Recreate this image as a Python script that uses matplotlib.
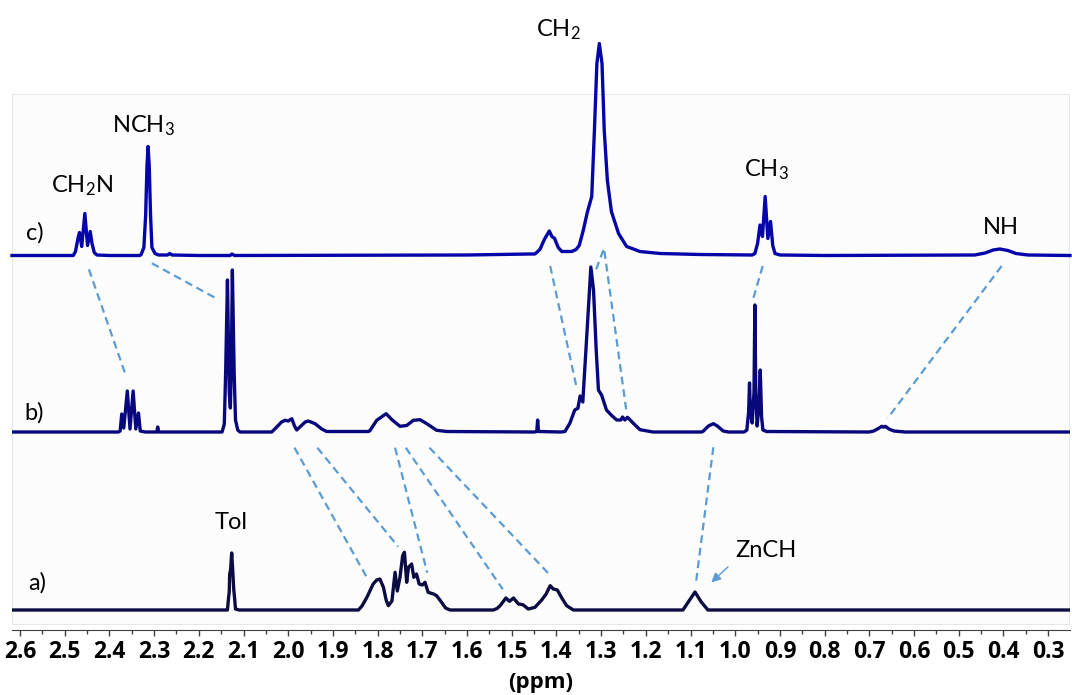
import matplotlib
matplotlib.use("Agg")
import matplotlib.pyplot as plt
from matplotlib.patches import Rectangle
from matplotlib.ticker import MultipleLocator, FormatStrFormatter

plt.rcParams['font.family'] = ['Lato', 'DejaVu Sans']
plt.rcParams['mathtext.fontset'] = 'custom'
plt.rcParams['mathtext.rm'] = 'Lato'
plt.rcParams['mathtext.it'] = 'Lato:italic'
plt.rcParams['mathtext.bf'] = 'Lato:bold'

# Spectrum c) - traced points (ppm, intensity)
ppm_c = [2.618, 2.50, 2.481, 2.476, 2.470, 2.467, 2.462, 2.455, 2.449, 2.443, 2.439, 2.434, 2.428,
         2.40, 2.332, 2.329, 2.323, 2.319, 2.316, 2.3136, 2.311, 2.308, 2.305, 2.298, 2.290,
         2.270, 2.265, 2.260, 2.20, 2.13, 2.126, 2.12, 1.60, 1.46,
         1.448, 1.437, 1.427, 1.416, 1.410, 1.404, 1.396, 1.388, 1.366, 1.356, 1.349, 1.340,
         1.331, 1.321, 1.315, 1.3095, 1.304, 1.298, 1.293, 1.286, 1.277, 1.261, 1.243, 1.213,
         1.168, 1.079, 0.962, 0.956, 0.950, 0.9445, 0.939, 0.933, 0.927, 0.921, 0.916, 0.911,
         0.90, 0.80, 0.464, 0.441, 0.423, 0.408, 0.390, 0.372, 0.345, 0.251]
int_c = [0, 0, 0, 4, 18, 23, 9, 42, 10, 24, 12, 3, 0.5,
         0, 0, 1, 8, 40, 90, 109, 90, 40, 8, 2, 0.5,
         0.5, 2, 0.5, 0, 0, 1.5, 0, 0.5, 1.5,
         1.5, 6, 16, 24.5, 19, 17, 8, 4, 4, 6, 10, 25,
         43, 59, 125, 192, 212, 192, 125, 75, 44, 22, 9, 4,
         2, 1, 0.5, 2, 12, 30.5, 19, 59, 17, 34, 10, 2,
         0.5, 0, 0.5, 2.5, 5.5, 6.5, 5, 2, 0.5, 0]

# Spectrum b)
ppm_b = [2.618, 2.38, 2.376, 2.3725, 2.368, 2.360, 2.354, 2.347, 2.341, 2.335, 2.331, 2.32,
         2.294, 2.292, 2.290, 2.16, 2.148, 2.143, 2.140, 2.136, 2.132, 2.1295, 2.1275, 2.125,
         2.121, 2.118, 2.113, 2.108,
         2.037, 2.030, 2.015, 2.007, 2.000, 1.992, 1.986, 1.981, 1.974, 1.962, 1.955, 1.940,
         1.925, 1.914, 1.82, 1.817, 1.802, 1.781, 1.768, 1.750, 1.735, 1.720, 1.705, 1.690,
         1.668, 1.645, 1.45, 1.444, 1.442, 1.440, 1.39,
         1.381, 1.370, 1.359, 1.352, 1.347, 1.341, 1.334, 1.326, 1.323, 1.317, 1.311, 1.306,
         1.299, 1.288, 1.276, 1.265, 1.256, 1.252, 1.247, 1.241, 1.235, 1.228, 1.213, 1.184,
         1.075, 1.071, 1.060, 1.049, 1.040, 1.027, 1.015,
         0.980, 0.974, 0.970, 0.968, 0.966, 0.962, 0.958, 0.956, 0.954, 0.951, 0.947, 0.944,
         0.941, 0.938, 0.93, 0.70, 0.690, 0.678, 0.672, 0.668, 0.664, 0.656, 0.645, 0.62, 0.251]
int_b = [0, 0, 1, 18, 4, 41, 3, 41, 3, 19, 1, 0,
         0, 5, 0, 0, 0, 8, 60, 152, 40, 24, 60, 162,
         60, 12, 2, 0,
         0, 3, 10, 11.7, 11, 13.3, 6, 2, 5, 10, 11, 8.3,
         3, 0.5, 0.5, 1.5, 11.7, 18.3, 12.3, 5.7, 6.5, 11.7, 12.3, 8.3,
         1.7, 0.5, 0, 0.5, 12, 0.5, 0,
         0.5, 8.7, 22, 23.7, 36, 30, 82, 142, 165, 142, 82, 42,
         37, 22, 16.3, 12, 12, 15, 12, 14.7, 12, 8.7, 2.3, 0,
         0, 1, 6, 8.3, 6, 1, 0,
         0, 2, 20, 49, 20, 9, 40, 127, 40, 6, 25, 62,
         15, 2, 0.5, 0, 1, 4, 5.7, 4.8, 5.7, 3, 1, 0, 0]

# Spectrum a)
ppm_a = [2.618, 2.136, 2.1336, 2.132, 2.131, 2.129, 2.1265, 2.124, 2.1218, 2.120, 2.118, 2.11,
         1.843, 1.835, 1.824, 1.810, 1.802, 1.795, 1.787, 1.781, 1.776, 1.768, 1.761, 1.756,
         1.750, 1.744, 1.740, 1.735, 1.731, 1.724, 1.719, 1.713, 1.707, 1.700, 1.694, 1.687,
         1.675, 1.668, 1.657, 1.648, 1.638,
         1.541, 1.533, 1.526, 1.513, 1.505, 1.496, 1.485, 1.475, 1.463, 1.448, 1.433, 1.423,
         1.414, 1.407, 1.398, 1.388, 1.377, 1.362,
         1.117, 1.105, 1.090, 1.076, 1.061, 0.251]
int_a = [0, 0, 12, 18, 36, 40, 57, 38, 20, 12, 1, 0,
         0, 4, 12.7, 26, 30, 31, 22.7, 10, 4.3, 9, 37.7, 19,
         32.7, 54.3, 57.7, 27.7, 42.7, 46, 32.7, 36, 26, 25, 27.7, 17.7,
         16, 14.3, 7.7, 2, 0,
         0, 1.5, 4.3, 12, 8.7, 12, 6, 5.3, 1, 2.7, 10, 16,
         24.3, 21, 20, 12, 4.3, 0,
         0, 8, 18, 8, 0, 0]

# Peak labels (text, ppm, height)
labels = [(r'CH$_\mathregular{2}$N', 2.462, 433), (r'NCH$_\mathregular{3}$', 2.324, 493),
          (r'CH$_\mathregular{2}$', 1.395, 589), (r'CH$_\mathregular{3}$', 0.931, 449),
          ('NH', 0.405, 391), ('Tol', 2.128, 96), ('ZnCH', 0.931, 68),
          ('c)', 2.566, 385), ('b)', 2.569, 205), ('a)', 2.562, 35)]

# Correlation lines between spectra
links = [([2.446, 2.365], [355.7, 251.7]),
         ([2.305, 2.164], [361.7, 327.3]),
         ([1.414, 1.356], [359, 240]),
         ([1.311, 1.2935, 1.244], [355.7, 376.7, 215.7]),
         ([0.9385, 0.9595], [359, 326.7]),
         ([0.404, 0.659], [359, 206.7]),
         ([1.986, 1.821], [177.3, 45]),
         ([1.935, 1.754], [177.3, 78.3]),
         ([1.761, 1.689], [177.3, 52.3]),
         ([1.737, 1.520], [177.3, 35.7]),
         ([1.684, 1.416], [177.3, 50.7]),
         ([1.049, 1.088], [177.7, 41.7])]

offset_a, offset_b, offset_c = 15, 193, 369.5

fig = plt.figure(figsize=(10.72, 6.95), dpi=100)
ax = fig.add_axes([12/1072, 70/695, 1058/1072, 531/695])
ax.set_facecolor('#fcfcfc')
ax.add_patch(Rectangle((0, 0), 1, 1, transform=ax.transAxes, fill=False,
                       edgecolor='#e6e6e6', linewidth=1.5, zorder=0))

ax.plot(ppm_a, [v + offset_a for v in int_a], color='#0c0c42', lw=2.4, zorder=3)
ax.plot(ppm_b, [v + offset_b for v in int_b], color='#08087c', lw=2.4, zorder=3)
ax.plot(ppm_c, [v + offset_c for v in int_c], color='#0505aa', lw=2.4, zorder=3,
        clip_on=False)

for xs, ys in links:
    ax.plot(xs, ys, color='#5b9bd5', lw=1.6, ls=(0, (3.5, 2.2)), zorder=2)

ax.annotate('', xy=(1.058, 40.7), xytext=(1.0116, 60),
            arrowprops=dict(arrowstyle='-|>', color='#5b9bd5', lw=1.0,
                            mutation_scale=14))

for txt, x, y in labels:
    ax.text(x, y, txt, ha='center', va='baseline', fontsize=17, color='black')

ax.set_xlim(2.618, 0.251)
ax.set_ylim(0, 531)
ax.set_yticks([])
for s in ['top', 'left', 'right']:
    ax.spines[s].set_visible(False)
ax.spines['bottom'].set_position(('outward', 3.6))
ax.spines['bottom'].set_color('#404040')
ax.xaxis.set_major_locator(MultipleLocator(0.1))
ax.xaxis.set_minor_locator(MultipleLocator(0.05))
ax.xaxis.set_major_formatter(FormatStrFormatter('%.1f'))
ax.tick_params(axis='x', which='major', length=4, width=1, color='#404040',
               labelsize=16.5, pad=3)
ax.tick_params(axis='x', which='minor', length=3, width=1, color='#404040')
for lab in ax.get_xticklabels():
    lab.set_fontfamily('Open Sans')
    lab.set_fontweight('bold')
ax.set_xlabel('(ppm)', fontsize=16, fontweight='bold', family='Open Sans', labelpad=6)

fig.savefig('out.png', dpi=100, facecolor='white')
